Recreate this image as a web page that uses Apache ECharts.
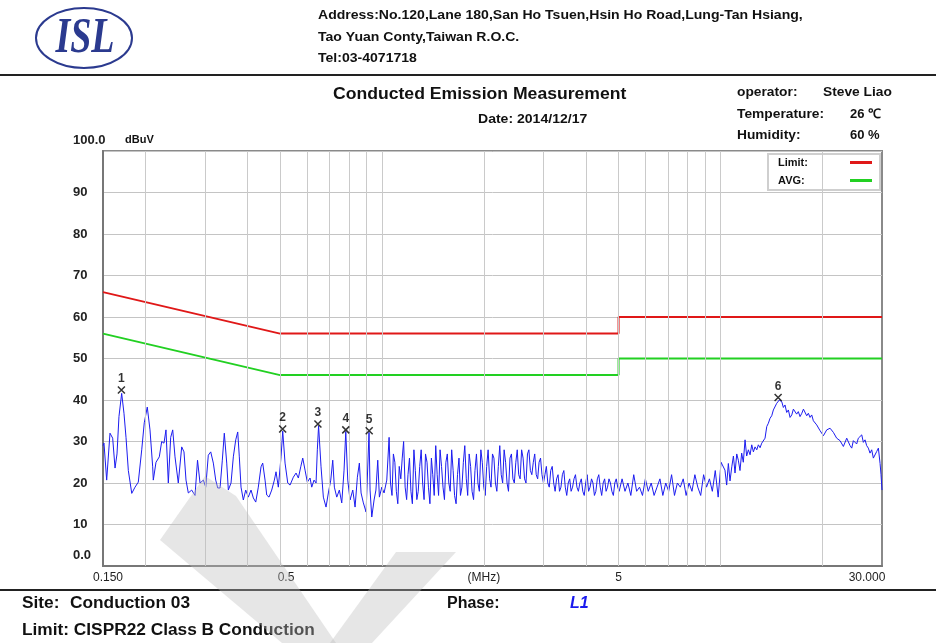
<!DOCTYPE html>
<html>
<head>
<meta charset="utf-8">
<script src="https://cdn.jsdelivr.net/npm/echarts@6/dist/echarts.min.js"></script>
<style>
html,body{margin:0;padding:0;background:#fff;}
#chart{width:936px;height:643px;}
</style>
</head>
<body>
<div id="chart"></div>
<script>
// ---- data ----
var limitQP = [[0.15, 66], [0.5, 56], [5, 56], [5, 60], [30, 60]];
var limitAVG = [[0.15, 56], [0.5, 46], [5, 46], [5, 50], [30, 50]];
var gridFreqs = [0.2, 0.3, 0.4, 0.5, 0.6, 0.7, 0.8, 0.9, 1, 2, 3, 4, 5, 6, 7, 8, 9, 10, 20];
var xLabelValues = [0.15, 0.5, 2, 5, 30];
var xLabelTexts = ['0.150', '0.5', '(MHz)', '5', '30.000'];
var peaks = [
  ['1', 0.1700, 42.4], ['2', 0.509, 33.0], ['3', 0.647, 34.2],
  ['4', 0.782, 32.8], ['5', 0.917, 32.6], ['6', 14.8, 40.6]
];
var scan = [
  [0.150, 29.0], [0.1510, 29.6], [0.1538, 20.7], [0.1573, 32.0], [0.1602, 30.8], [0.1628, 23.6],
  [0.1650, 27.0], [0.1672, 36.0], [0.1703, 41.6], [0.1730, 36.8], [0.1754, 31.0], [0.1782, 23.0],
  [0.1824, 17.5], [0.1865, 19.0], [0.1907, 20.2], [0.1952, 28.0], [0.1986, 34.5], [0.2027, 38.3],
  [0.2065, 32.8], [0.2103, 23.9], [0.2112, 20.7], [0.2151, 25.0], [0.2200, 26.3], [0.2236, 30.0],
  [0.2271, 29.6], [0.2302, 32.8], [0.2339, 20.0], [0.2377, 31.0], [0.2410, 32.8], [0.2448, 26.3],
  [0.2503, 20.0], [0.2562, 28.7], [0.2602, 27.5], [0.2638, 20.7], [0.2680, 17.6], [0.2742, 18.3],
  [0.2805, 17.0], [0.2853, 25.5], [0.2902, 20.0], [0.2968, 20.7], [0.3017, 19.0], [0.3070, 26.7],
  [0.3121, 27.5], [0.3177, 24.8], [0.3229, 20.7], [0.3273, 18.8], [0.3325, 18.8], [0.3377, 25.5],
  [0.3423, 32.0], [0.3480, 24.8], [0.3518, 18.3], [0.3583, 20.0], [0.3640, 26.3], [0.3700, 30.4],
  [0.3750, 32.3], [0.3791, 26.3], [0.3835, 19.0], [0.3896, 15.9], [0.3960, 18.3], [0.4030, 16.6],
  [0.4105, 18.3], [0.4170, 16.4], [0.4239, 15.4], [0.4314, 19.0], [0.4394, 23.9], [0.4445, 24.8],
  [0.4516, 20.7], [0.4568, 17.1], [0.4640, 16.6], [0.4726, 18.3], [0.4811, 20.7], [0.4866, 22.7],
  [0.4943, 19.0], [0.5035, 26.3], [0.5093, 32.5], [0.5174, 24.8], [0.5270, 20.0], [0.5353, 19.5],
  [0.5474, 21.4], [0.5576, 22.4], [0.5664, 21.2], [0.5757, 23.9], [0.5836, 26.0], [0.5928, 23.1],
  [0.6021, 20.2], [0.6133, 21.2], [0.6204, 19.0], [0.6302, 20.7], [0.6389, 20.0], [0.6445, 28.0],
  [0.6500, 33.8], [0.6609, 23.9], [0.6714, 16.6], [0.6838, 14.2], [0.6946, 17.6], [0.7061, 20.7],
  [0.7157, 25.5], [0.7236, 19.0], [0.7355, 16.6], [0.7486, 18.3], [0.7609, 15.2], [0.7729, 23.1],
  [0.7820, 32.4], [0.7926, 20.7], [0.8051, 15.9], [0.8201, 18.3], [0.8330, 14.2], [0.8462, 21.4],
  [0.8577, 24.8], [0.8677, 17.6], [0.8814, 15.2], [0.8978, 13.0], [0.9160, 32.2], [0.9225, 18.3],
  [0.9333, 11.8], [0.9480, 15.9], [0.9600, 18.3], [0.9720, 25.5], [0.9828, 16.6], [0.9990, 19.0],
  [1.0147, 17.6], [1.0335, 20.7],
  [1.050, 31], [1.060, 20], [1.071, 17], [1.081, 27], [1.092, 25], [1.103, 18], [1.114, 15],
  [1.125, 24], [1.137, 21], [1.148, 26], [1.159, 30], [1.171, 19], [1.183, 16], [1.194, 22],
  [1.206, 26], [1.218, 18], [1.230, 15], [1.243, 28], [1.255, 23], [1.268, 16], [1.280, 18],
  [1.293, 24], [1.306, 28], [1.319, 20], [1.332, 16], [1.345, 27], [1.359, 25], [1.372, 19],
  [1.386, 15], [1.400, 26], [1.413, 22], [1.427, 17], [1.442, 29], [1.456, 22], [1.470, 17],
  [1.485, 28], [1.500, 24], [1.515, 19], [1.530, 16], [1.545, 25], [1.560, 27], [1.576, 20],
  [1.591, 18], [1.607, 28], [1.623, 23], [1.639, 17], [1.656, 15], [1.672, 22], [1.689, 26],
  [1.706, 17], [1.723, 19], [1.740, 25], [1.757, 29], [1.775, 21], [1.792, 17], [1.810, 27],
  [1.828, 24], [1.846, 18], [1.865, 16], [1.883, 23], [1.902, 27], [1.921, 20], [1.940, 18],
  [1.960, 28], [1.979, 25], [1.999, 19], [2.019, 17], [2.039, 24], [2.059, 28], [2.080, 21],
  [2.100, 19], [2.121, 27], [2.142, 26], [2.164, 20], [2.185, 18], [2.207, 24], [2.229, 29],
  [2.251, 22], [2.273, 20], [2.296, 28], [2.319, 25], [2.342, 20], [2.365, 18], [2.389, 26],
  [2.413, 27], [2.437, 21], [2.461, 20], [2.486, 25], [2.510, 28], [2.535, 22], [2.560, 21],
  [2.586, 28], [2.612, 26], [2.638, 21], [2.664, 20], [2.691, 27], [2.717, 28], [2.745, 23],
  [2.772, 22], [2.800, 25], [2.827, 27], [2.856, 22], [2.884, 21], [2.912, 25], [2.941, 26],
  [2.970, 22], [3.000, 20],
  [3.030, 22], [3.060, 24], [3.090, 20], [3.121, 19], [3.152, 23], [3.184, 24], [3.216, 20],
  [3.248, 18], [3.280, 21], [3.313, 22], [3.346, 18], [3.379, 19], [3.412, 22], [3.446, 23],
  [3.480, 19], [3.515, 17], [3.550, 20], [3.586, 21], [3.621, 18], [3.657, 19], [3.693, 21],
  [3.730, 22], [3.767, 19], [3.805, 18], [3.843, 20], [3.881, 21], [3.920, 18], [3.959, 17],
  [3.998, 20], [4.038, 22], [4.078, 18], [4.119, 19], [4.160, 21], [4.201, 20], [4.243, 17],
  [4.285, 18], [4.328, 21], [4.371, 22], [4.414, 19], [4.458, 17], [4.503, 20], [4.548, 21],
  [4.593, 18], [4.639, 19], [4.685, 21], [4.731, 20], [4.778, 18], [4.826, 17], [4.874, 20],
  [4.922, 21], [4.971, 19],
  [5.021, 18], [5.121, 21], [5.224, 18], [5.328, 20], [5.435, 17],
  [5.543, 22], [5.654, 18], [5.767, 19], [5.883, 17], [6.000, 21], [6.120, 18], [6.243, 20],
  [6.367, 17], [6.495, 19], [6.625, 21], [6.757, 17], [6.892, 20], [7.030, 18], [7.171, 22],
  [7.314, 17], [7.460, 20], [7.610, 19], [7.762, 21], [7.917, 17], [8.076, 20], [8.237, 18],
  [8.402, 22], [8.570, 19], [8.741, 17], [8.916, 22], [9.095, 19], [9.276, 21], [9.462, 18],
  [9.651, 23], [9.844, 16.6], [10.04, 25],
  [10.31, 23.1], [10.43, 19.5], [10.55, 24.7], [10.67, 20.5], [10.80, 23.9], [10.92, 26.5],
  [11.04, 22.4], [11.17, 27.0], [11.29, 25.5], [11.42, 23.0], [11.55, 27.2], [11.68, 25.0],
  [11.82, 30.4], [11.95, 26.5], [12.09, 28.0], [12.23, 26.8], [12.37, 29.2], [12.51, 27.5],
  [12.65, 28.7], [12.80, 28.0], [12.94, 29.2], [13.09, 28.5], [13.24, 29.6], [13.39, 30.0],
  [13.54, 30.8], [13.70, 33.6], [13.85, 34.4], [14.01, 35.6], [14.17, 36.2], [14.33, 37.6],
  [14.50, 38.0], [14.66, 39.2], [14.92, 40.0], [15.17, 39.6], [15.34, 38.2], [15.51, 38.8],
  [15.69, 37.0], [15.87, 37.6], [16.05, 35.8], [16.24, 36.4], [16.42, 37.8], [16.60, 38.0],
  [16.79, 36.6], [16.98, 37.2], [17.18, 36.0], [17.39, 36.8], [17.58, 37.8], [17.78, 37.6],
  [17.98, 36.2], [18.18, 36.8], [18.39, 35.8], [18.60, 36.4], [18.81, 35.0], [19.03, 35.2],
  [19.24, 34.0], [19.46, 33.6], [19.69, 32.6], [19.92, 32.4], [20.14, 31.4], [20.37, 31.6],
  [20.60, 32.8], [20.83, 32.4], [21.07, 33.2], [21.31, 33.6], [21.55, 32.2], [21.80, 32.4],
  [22.04, 30.8], [22.29, 31.2], [22.55, 30.2], [22.81, 30.0], [23.07, 28.8], [23.33, 29.2],
  [23.60, 30.8], [23.86, 30.4], [24.14, 29.0], [24.42, 28.4], [24.69, 30.2], [24.97, 30.0],
  [25.25, 29.4], [25.54, 30.8], [25.84, 31.2], [26.14, 31.6], [26.43, 29.8], [26.73, 30.4],
  [27.03, 29.0], [27.34, 28.4], [27.65, 27.2], [27.97, 28.0], [28.29, 26.0], [28.62, 26.3],
  [28.94, 27.6], [29.27, 28.4], [29.61, 24.7], [29.80, 22.0], [30.00, 18.3]
];

// ---- chart ----
var FONT = '"Liberation Sans", Arial, sans-serif';
var chart = echarts.init(document.getElementById('chart'), null, {renderer: 'canvas'});

function xLabel(v) {
  for (var i = 0; i < xLabelValues.length; i++) {
    if (Math.abs(v - xLabelValues[i]) / xLabelValues[i] < 0.01) {
      if (i === 0) return '{l|' + xLabelTexts[i] + '}';
      if (i === 1) return '{m|' + xLabelTexts[i] + '}';
      if (i === xLabelValues.length - 1) return '{r|' + xLabelTexts[i] + '}';
      return xLabelTexts[i];
    }
  }
  return '';
}

function txt(x, y, s, font, sx, fill) {
  return {type: 'text', x: x, y: y, z: 100, scaleX: sx || 1,
    style: {text: s, font: font, fill: fill || '#111', textAlign: 'left', textVerticalAlign: 'middle'}};
}

var HF = 'bold 13px ' + FONT;
var FF = 'bold 16px ' + FONT;
var WM = 'rgba(190,190,190,0.38)';

var option = {
  backgroundColor: '#fff',
  animation: false,
  textStyle: {fontFamily: FONT},
  grid: {left: 103, right: 54, top: 151, bottom: 77, show: true, borderColor: '#8a8a8a', borderWidth: 2, backgroundColor: '#fff'},
  legend: {
    data: ['Limit:', 'AVG:'],
    orient: 'vertical', align: 'right',
    right: 56, top: 154,
    padding: [3, 8, 4, 10], itemGap: 7,
    itemWidth: 22, itemHeight: 3, icon: 'rect',
    backgroundColor: '#fff', borderColor: '#cfcfcf', borderWidth: 2,
    formatter: function (name) { return '{a|' + name + '}'; },
    textStyle: {fontFamily: FONT, fontSize: 11, fontWeight: 'bold', color: '#111',
      rich: {a: {width: 67, align: 'left', fontFamily: FONT, fontSize: 11, fontWeight: 'bold', color: '#111'}}}
  },
  xAxis: {
    type: 'log', logBase: 10, min: 0.15, max: 30,
    axisLine: {show: true, lineStyle: {color: '#777', width: 2}},
    axisTick: {show: false},
    splitLine: {show: false},
    minorTick: {show: false}, minorSplitLine: {show: false},
    axisLabel: {
      customValues: xLabelValues,
      formatter: xLabel,
      margin: 6,
      fontFamily: FONT, fontSize: 12, color: '#222',
      rich: {
        l: {padding: [0, 0, 0, 10], fontFamily: FONT, fontSize: 12, color: '#222'},
        m: {padding: [0, 0, 0, 12], fontFamily: FONT, fontSize: 12, color: '#222'},
        r: {padding: [0, 30, 0, 0], fontFamily: FONT, fontSize: 12, color: '#222'}
      }
    }
  },
  yAxis: {
    type: 'value', min: 0, max: 100, interval: 10,
    name: 'dBuV', nameLocation: 'end', nameGap: 6,
    nameTextStyle: {fontFamily: FONT, fontSize: 11, fontWeight: 'bold', color: '#111', align: 'left', padding: [0, 0, 0, 22]},
    axisLine: {show: true, lineStyle: {color: '#777', width: 2}},
    axisTick: {show: false},
    splitLine: {show: true, lineStyle: {color: '#c4c4c4', width: 1}},
    axisLabel: {
      align: 'left', margin: 30,
      fontFamily: FONT, fontSize: 13, fontWeight: 'bold', color: '#222',
      formatter: function (v) {
        if (v === 100) return '{t|100.0}';
        if (v === 0) return '{t|0.0}';
        return String(v);
      },
      rich: {t: {padding: [0, 0, 22, 0], fontFamily: FONT, fontSize: 13, fontWeight: 'bold', color: '#222'}}
    }
  },
  series: [
    {
      name: 'grid', type: 'line', data: [], z: 1, silent: true,
      markLine: {
        silent: true, symbol: ['none', 'none'], animation: false,
        label: {show: false},
        lineStyle: {color: '#cacaca', type: 'solid', width: 1},
        data: gridFreqs.map(function (f) { return {xAxis: f}; })
      }
    },
    {
      name: 'Limit:', type: 'line', data: limitQP, showSymbol: false, symbol: 'none',
      lineStyle: {color: '#e01818', width: 2}, itemStyle: {color: '#e01818'}, z: 3
    },
    {
      name: 'AVG:', type: 'line', data: limitAVG, showSymbol: false, symbol: 'none',
      lineStyle: {color: '#22d022', width: 2}, itemStyle: {color: '#22d022'}, z: 3
    },
    {
      name: 'scan', type: 'line', data: scan, showSymbol: false, symbol: 'none',
      sampling: null,
      lineStyle: {color: '#1c1cf0', width: 1}, itemStyle: {color: '#1c1cf0'}, z: 4
    },
    {
      name: 'peaks', type: 'scatter', z: 6,
      data: peaks.map(function (p) { return {name: p[0], value: [p[1], p[2]]}; }),
      symbol: 'path://M0,0L10,10M10,0L0,10', symbolSize: 7,
      itemStyle: {color: 'rgba(0,0,0,0)', borderColor: '#000', borderWidth: 1.5},
      label: {show: true, position: 'top', distance: 1, formatter: '{b}',
        fontFamily: FONT, fontSize: 12, fontWeight: 'bold', color: '#000'}
    }
  ],
  graphic: [
    {type: 'ellipse', z: 100, shape: {cx: 84, cy: 38, rx: 48, ry: 30}, style: {fill: 'none', stroke: '#2b3a8f', lineWidth: 2}},
    {type: 'text', x: 85, y: 39, z: 100, scaleX: 0.76,
      style: {text: 'ISL', font: 'italic bold 50px "Liberation Serif", serif', fill: '#2b3a8f', textAlign: 'center', textVerticalAlign: 'middle'}},
    txt(318, 15, 'Address:No.120,Lane 180,San Ho Tsuen,Hsin Ho Road,Lung-Tan Hsiang,', HF, 1.08),
    txt(318, 37, 'Tao Yuan Conty,Taiwan R.O.C.', HF, 1.08),
    txt(318, 58, 'Tel:03-4071718', HF, 1.08),
    {type: 'line', z: 100, shape: {x1: 0, y1: 75, x2: 936, y2: 75}, style: {stroke: '#222', lineWidth: 2}},
    txt(333, 95, 'Conducted Emission Measurement', 'bold 16px ' + FONT, 1.1),
    txt(478, 119, 'Date: 2014/12/17', HF, 1.08),
    txt(737, 92, 'operator:', HF, 1.06),
    txt(823, 92, 'Steve Liao', HF, 1.06),
    txt(737, 114, 'Temperature:', HF, 1.06),
    txt(850, 114, '26 ℃', HF, 1.0),
    txt(737, 135, 'Humidity:', HF, 1.06),
    txt(850, 135, '60 %', HF, 1.0),
    {type: 'line', z: 100, shape: {x1: 0, y1: 590, x2: 936, y2: 590}, style: {stroke: '#222', lineWidth: 2}},
    txt(22, 604, 'Site:', FF, 1.08),
    txt(70, 604, 'Conduction 03', FF, 1.08),
    txt(447, 604, 'Phase:', FF, 1.0),
    txt(570, 604, 'L1', 'italic bold 16px ' + FONT, 1.0, '#1a1aee'),
    txt(22, 631, 'Limit: CISPR22 Class B Conduction', FF, 1.08),
    // faint watermark strokes
    {type: 'polygon', z: 120, silent: true, shape: {points: [[160, 540], [205, 476], [236, 496], [336, 643], [282, 643]]}, style: {fill: WM}},
    {type: 'polygon', z: 120, silent: true, shape: {points: [[396, 552], [456, 552], [372, 643], [330, 643]]}, style: {fill: WM}}
  ]
};
chart.setOption(option);
</script>
</body>
</html>
